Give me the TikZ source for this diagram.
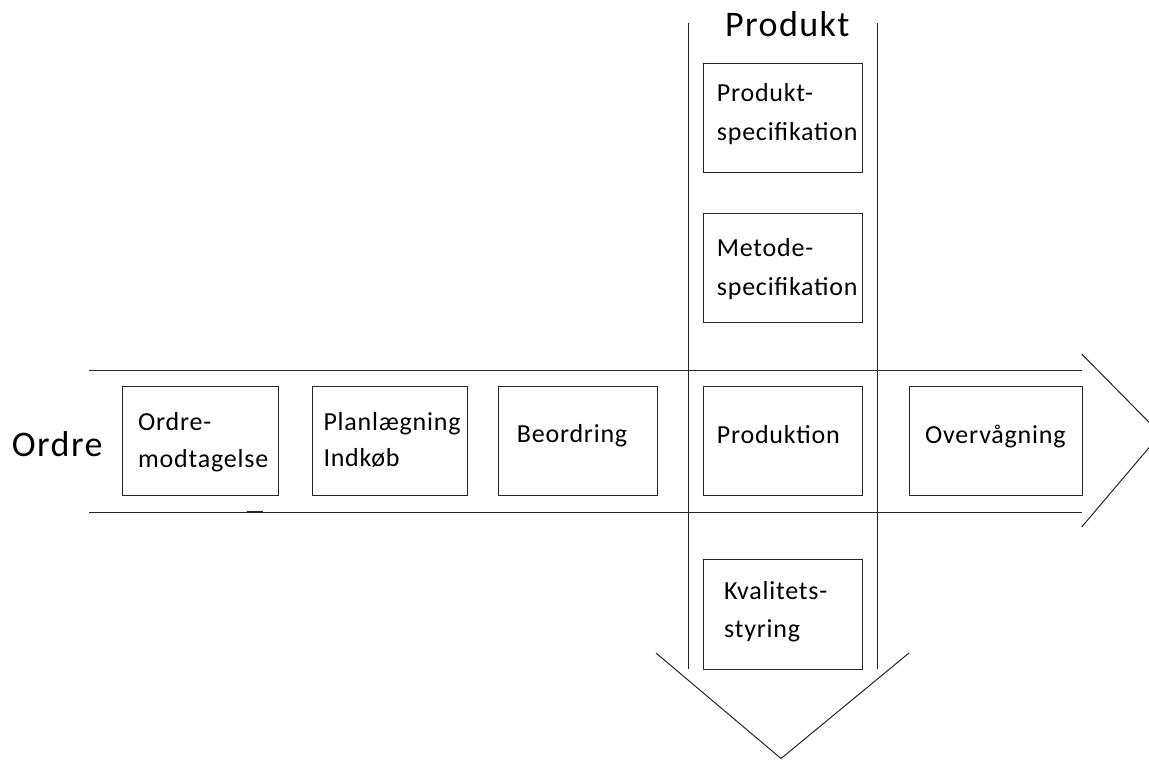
\documentclass[tikz,border=0pt]{standalone}
\usepackage{fontspec}
\setmainfont{Carlito}
\newfontfamily\boxfont[LetterSpace=3]{Carlito}
\newfontfamily\bigfont[LetterSpace=4]{Carlito}
\begin{document}
\begin{tikzpicture}[x=1pt,y=-1pt,
  band/.style={draw=black!85, line width=1pt},
  box/.style={draw=black!85, line width=1pt, fill=white, inner sep=0pt, anchor=north west, minimum height=109pt},
  lbl/.style={inner sep=0pt, anchor=base west, font=\boxfont\fontsize{26}{30}\selectfont},
  biglbl/.style={inner sep=0pt, anchor=base west, font=\bigfont\fontsize{36}{40}\selectfont}]
\useasboundingbox (0,0) rectangle (1149,760);
\clip (0,0) rectangle (1149,760);
% coordinates of the bands
\coordinate (hl1) at (89.3,370);
\coordinate (hr1) at (1081.7,370);
\coordinate (hl2) at (89.3,512.3);
\coordinate (hr2) at (1081.7,512.3);
\coordinate (ha1) at (1081.7,354);
\coordinate (htip) at (1160.6,434);
\coordinate (ha2) at (1081.7,527);
\coordinate (vt1) at (688.3,23);
\coordinate (vb1) at (688.3,669);
\coordinate (vt2) at (877,23);
\coordinate (vb2) at (877,669);
\coordinate (va1) at (656,653);
\coordinate (vtip) at (781,758.5);
\coordinate (va2) at (909,653);
\coordinate (m1) at (247,511.5);
\coordinate (m2) at (263,511.5);
% horizontal band
\draw[band] (hl1) -- (hr1);
\draw[band] (hl2) -- (hr2);
\draw[band] (ha1) -- (htip) -- (ha2);
\draw[draw=black!85, line width=2pt] (m1) -- (m2);
% vertical band
\draw[band] (vt1) -- (vb1);
\draw[band] (vt2) -- (vb2);
\draw[band] (va1) -- (vtip) -- (va2);
% boxes
\node[box, minimum width=156.3pt] (b1) at (121.7,386.3) {};
\node[box, minimum width=155pt] (b2) at (311.7,386.3) {};
\node[box, minimum width=158.4pt] (b3) at (498.3,386.3) {};
\node[box, minimum width=158.4pt] (b4) at (703.3,386.3) {};
\node[box, minimum width=172.4pt] (b5) at (909.3,386.3) {};
\node[box, minimum width=158.4pt, minimum height=110pt] (b6) at (703.3,559.3) {};
\node[box, minimum width=158.4pt] (b7) at (703.3,63.3) {};
\node[box, minimum width=158.4pt] (b8) at (703.3,213.3) {};
% texts
\node[biglbl] (tordre) at (11.7,456.7) {Ordre};
\node[biglbl] (tprodukt) at (725,36.7) {Produkt};
\node[lbl] (t1a) at (138,430) {Ordre-};
\node[lbl] (t1b) at (138,467.3) {modtagelse};
\node[lbl] (t2a) at (323.3,430) {Planlægning};
\node[lbl] (t2b) at (323.3,466.7) {Indkøb};
\node[lbl] (t3) at (516.7,442.7) {Beordring};
\node[lbl] (t4) at (716.7,443.3) {Produktion};
\node[lbl] (t5) at (925,443.3) {Overvågning};
\node[lbl] (t6a) at (724,599.3) {Kvalitets-};
\node[lbl] (t6b) at (724,637.7) {styring};
\node[lbl] (t7a) at (716.7,101.7) {Produkt-};
\node[lbl] (t7b) at (716.7,140) {specifikation};
\node[lbl] (t8a) at (716.7,256.7) {Metode-};
\node[lbl] (t8b) at (716.7,295) {specifikation};
\end{tikzpicture}
\end{document}
